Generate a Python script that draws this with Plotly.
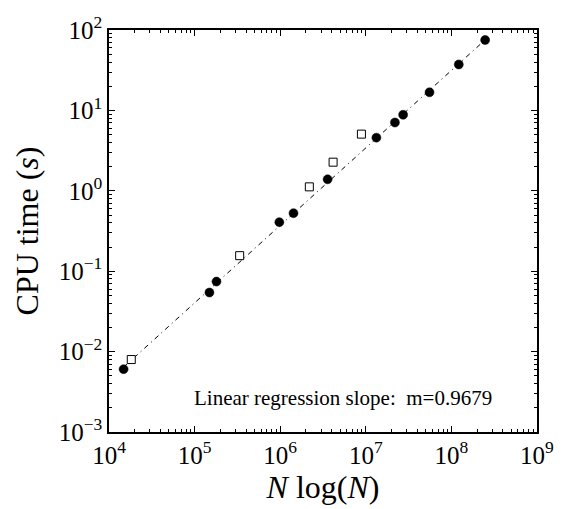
import numpy as np
import plotly.graph_objects as go

# Filled circles (main runs)
circ_x = [1.48e4, 1.49e5, 1.80e5, 9.77e5, 1.43e6, 3.58e6, 1.33e7, 2.19e7, 2.73e7, 5.55e7, 1.22e8, 2.48e8]
circ_y = [0.00604, 0.0543, 0.0743, 0.407, 0.527, 1.39, 4.58, 7.07, 8.83, 16.8, 37.3, 75.2]

# Open squares
sq_x = [1.82e4, 3.36e5, 2.19e6, 4.15e6, 8.89e6]
sq_y = [0.00796, 0.156, 1.12, 2.27, 5.07]

x_tickvals = [1e4, 1e5, 1e6, 1e7, 1e8, 1e9]
x_ticktext = ["10<sup>4</sup>", "10<sup>5</sup>", "10<sup>6</sup>", "10<sup>7</sup>", "10<sup>8</sup>", "10<sup>9</sup>"]
y_tickvals = [1e-3, 1e-2, 1e-1, 1e0, 1e1, 1e2]
y_ticktext = ["10<sup>\u22123</sup>", "10<sup>\u22122</sup>", "10<sup>\u22121</sup>", "10<sup>0</sup>", "10<sup>1</sup>", "10<sup>2</sup>"]

slope_label = "Linear regression slope:  m=0.9679"

# Regression line over the range of the filled-circle data
coef = np.polyfit(np.log10(circ_x), np.log10(circ_y), 1)
fit_x = [min(circ_x), max(circ_x)]
fit_y = [10 ** np.polyval(coef, np.log10(v)) for v in fit_x]

x_minor = [m * 10 ** k for k in range(4, 9) for m in range(2, 10)]
y_minor = [m * 10.0 ** k for k in range(-3, 2) for m in range(2, 10)]

FONT = "Liberation Serif"

fig = go.Figure()
fig.add_trace(go.Scatter(x=fit_x, y=fit_y, mode="lines",
                         line=dict(color="black", width=1, dash="5px,4px,1px,4px"),
                         showlegend=False, hoverinfo="skip"))
fig.add_trace(go.Scatter(x=circ_x, y=circ_y, mode="markers",
                         marker=dict(symbol="circle", size=9, color="black",
                                     line=dict(color="black", width=0.5)),
                         showlegend=False))
fig.add_trace(go.Scatter(x=sq_x, y=sq_y, mode="markers",
                         marker=dict(symbol="square", size=8, color="white",
                                     line=dict(color="black", width=1)),
                         showlegend=False))

axis_common = dict(
    type="log", showgrid=False, zeroline=False,
    showline=True, linecolor="black", linewidth=1.5, mirror="allticks",
    ticks="inside", ticklen=6, tickwidth=1, tickcolor="black",
    tickfont=dict(family=FONT, size=25, color="black"),
    ticklabeloverflow="allow",
)

fig.update_xaxes(
    **axis_common,
    range=[3.9998, 9.0002],
    tickmode="array", tickvals=x_tickvals, ticktext=x_ticktext,
    minor=dict(tickvals=x_minor, ticks="inside", ticklen=3, tickcolor="black", tickwidth=1, showgrid=False),
    title=dict(text="<i>N</i> log(<i>N</i>)", font=dict(family=FONT, size=32, color="black"), standoff=4),
)
fig.update_yaxes(
    **axis_common,
    range=[-3.0002, 2.0002],
    tickmode="array", tickvals=y_tickvals, ticktext=y_ticktext,
    minor=dict(tickvals=y_minor, ticks="inside", ticklen=3, tickcolor="black", tickwidth=1, showgrid=False),
    title=dict(text="CPU time (<i>s</i>)", font=dict(family=FONT, size=32, color="black"), standoff=10),
)

fig.add_annotation(text=slope_label, xref="paper", yref="paper", x=0.90, y=0.084,
                   xanchor="right", yanchor="middle", showarrow=False,
                   font=dict(family=FONT, size=21, color="black"))

fig.update_layout(
    width=566, height=509,
    margin=dict(l=109, r=19, t=17, b=77),
    paper_bgcolor="white", plot_bgcolor="white",
    showlegend=False,
)

fig.write_html("out.html")
